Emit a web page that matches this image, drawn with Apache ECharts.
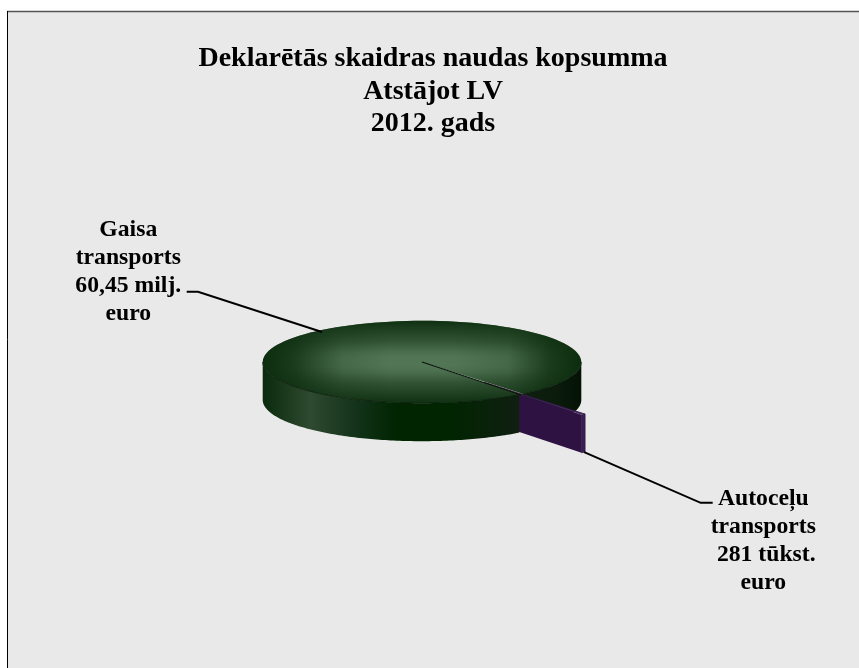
<!DOCTYPE html>
<html><head><meta charset="utf-8">
<style>html,body{margin:0;padding:0;background:#fff}#c{width:859px;height:668px}</style>
<script src="https://cdn.jsdelivr.net/npm/echarts@6/dist/echarts.min.js"></script>
</head><body><div id="c"></div>
<script>
const titleLines = ['Deklarētās skaidras naudas kopsumma', 'Atstājot LV', '2012. gads'];
const categories = ['Gaisa transports', 'Autoceļu transports'];
const valuesMillionEuro = [60.45, 0.281];
const labelTexts = ['Gaisa\ntransports\n60,45 milj.\neuro', 'Autoceļu\ntransports\n 281 tūkst.\neuro'];

const PIE = {cx: 422, cy: 362, rx: 159.3, ry: 41.2, depth: 38, explode: 0.627, midDeg: 51.5};
const FONT = '"Liberation Serif","Times New Roman",serif';
const total = valuesMillionEuro.reduce((a, b) => a + b, 0);
const sliceSpan = valuesMillionEuro[1] / total * 2 * Math.PI;
const mid = PIE.midDeg * Math.PI / 180;
const a0 = mid - sliceSpan / 2, a1 = mid + sliceSpan / 2;

function rim(from, to, ox, oy, dy) {
  const pts = [], n = 120;
  for (let i = 0; i <= n; i++) {
    const t = from + (to - from) * i / n;
    pts.push([PIE.cx + ox + PIE.rx * Math.cos(t), PIE.cy + oy + PIE.ry * Math.sin(t) + dy]);
  }
  return pts;
}
const wallFill = new echarts.graphic.LinearGradient(PIE.cx - PIE.rx, 0, PIE.cx + PIE.rx, 0, [
  {offset: 0, color: '#0b2a0d'}, {offset: 0.15, color: '#2e4a30'}, {offset: 0.29, color: '#14331a'},
  {offset: 0.42, color: '#002500'}, {offset: 0.57, color: '#002500'}, {offset: 0.8, color: '#0f1f10'},
  {offset: 0.92, color: '#0b1b0c'}, {offset: 1, color: '#031205'}], true);
const topFillX = new echarts.graphic.LinearGradient(PIE.cx - PIE.rx, 0, PIE.cx + PIE.rx, 0, [
  {offset: 0, color: '#0c2c0e'}, {offset: 0.1, color: '#1c3c1e'}, {offset: 0.25, color: '#446848'},
  {offset: 0.4, color: '#527655'}, {offset: 0.6, color: '#527655'}, {offset: 0.77, color: '#446848'},
  {offset: 0.9, color: '#1c3c1e'}, {offset: 1, color: '#0c2c0e'}], true);
const topFillY = new echarts.graphic.LinearGradient(0, PIE.cy - PIE.ry, 0, PIE.cy + PIE.ry, [
  {offset: 0, color: 'rgba(12,44,14,0.95)'}, {offset: 0.25, color: 'rgba(12,44,14,0.45)'},
  {offset: 0.38, color: 'rgba(12,44,14,0.1)'}, {offset: 0.45, color: 'rgba(12,44,14,0)'},
  {offset: 0.55, color: 'rgba(12,44,14,0)'}, {offset: 0.62, color: 'rgba(12,44,14,0.1)'},
  {offset: 0.75, color: 'rgba(12,44,14,0.45)'}, {offset: 1, color: 'rgba(12,44,14,0.95)'}], true);

function poly(points, fill, z2, stroke) {
  return {type: 'polygon', z2, shape: {points}, style: {fill, stroke: stroke || null, lineWidth: stroke ? 0.6 : 0}};
}
function line(points, color, w, z2) {
  return {type: 'polyline', z2, shape: {points}, style: {fill: null, stroke: color, lineWidth: w}};
}
function label(text, x, y) {
  return {type: 'text', z2: 50, x, y, style: {text, fill: '#000', font: 'bold 23.7px ' + FONT,
    align: 'center', verticalAlign: 'top', lineHeight: 28}};
}
function renderItem(params, api) {
  const children = [];
  if (params.dataIndex === 0) {
    const v = api.value(0) / total * 2 * Math.PI;
    const D = PIE.depth;
    const right = rim(0, a0, 0, 0, 0), rightB = rim(0, a0, 0, 0, D).reverse();
    const front = rim(a1, Math.PI, 0, 0, 0), frontB = rim(a1, Math.PI, 0, 0, D).reverse();
    children.push(poly(right.concat(rightB), wallFill, 1));
    children.push(poly(front.concat(frontB), wallFill, 10));
    const topShape = [[PIE.cx, PIE.cy]].concat(rim(a1, a1 + v, 0, 0, 0));
    children.push(poly(topShape, topFillX, 11));
    children.push(poly(topShape, topFillY, 12));
    children.push(line(rim(0, Math.PI, 0, 0, 0), '#0a1a0b', 0.8, 13));
    children.push(line([[PIE.cx, PIE.cy], [521.5, 395]], '#0a120a', 1.3, 14));
    children.push(line([[186.7, 291.8], [198, 291.8], [322, 332]], '#000', 2, 14));
    children.push(label(labelTexts[0], 128.3, 216));
  } else {
    const D = PIE.depth;
    const ox = PIE.rx * PIE.explode * Math.cos(mid), oy = PIE.ry * PIE.explode * Math.sin(mid);
    const apex = [PIE.cx + ox, PIE.cy + oy];
    const p0 = [apex[0] + PIE.rx * Math.cos(a0), apex[1] + PIE.ry * Math.sin(a0)];
    const p1 = [apex[0] + PIE.rx * Math.cos(a1), apex[1] + PIE.ry * Math.sin(a1)];
    const dn = p => [p[0], p[1] + D];
    children.push(poly([apex, p1, dn(p1), dn(apex)], '#2e1242', 5));
    children.push(poly([p1, p0, dn(p0), dn(p1)], '#3c1c55', 5, '#241033'));
    children.push(poly([apex, p0, p1], '#4a2a66', 6));
    children.push(line([apex, p0], '#2a1a3a', 0.8, 6));
    children.push(line([[dn(p0)[0] - 1, dn(p0)[1]], [700.7, 502.8], [712.7, 502.8]], '#000', 2, 14));
    children.push(label(labelTexts[1], 763.3, 484.5));
  }
  return {type: 'group', children};
}

const chart = echarts.init(document.getElementById('c'), null, {renderer: 'canvas'});
chart.setOption({
  animation: false,
  backgroundColor: '#fff',
  title: {
    text: titleLines.join('\n'), left: 433, top: 43, padding: 0, textAlign: 'center',
    textStyle: {fontFamily: FONT, fontWeight: 'bold', fontSize: 28, lineHeight: 32.4, color: '#000'}
  },
  graphic: [
    {type: 'rect', z: -10, shape: {x: 7.5, y: 11.5, width: 852, height: 657}, style: {fill: '#e9e9e9'}},
    {type: 'line', z: -9, shape: {x1: 7, y1: 11.5, x2: 859, y2: 11.5}, style: {stroke: '#555', lineWidth: 1.5}},
    {type: 'line', z: -9, shape: {x1: 7.5, y1: 11, x2: 7.5, y2: 668}, style: {stroke: '#000', lineWidth: 1}}
  ],
  series: [{
    type: 'custom', coordinateSystem: 'none', name: 'Deklarētās skaidras naudas kopsumma',
    renderItem, silent: true,
    data: categories.map((name, i) => ({name, value: [valuesMillionEuro[i]]}))
  }]
});
</script></body></html>
